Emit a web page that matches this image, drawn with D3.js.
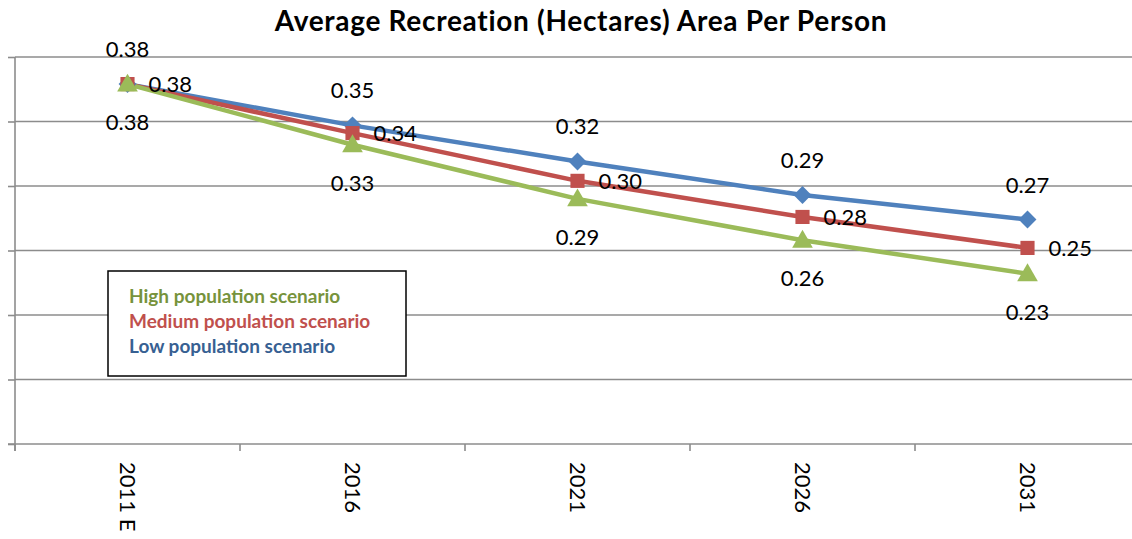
<!DOCTYPE html>
<html>
<head>
<meta charset="utf-8">
<script src="https://cdn.jsdelivr.net/npm/d3@7"></script>
<style>
  html, body { margin: 0; padding: 0; background: #fff; }
  svg { display: block; }
  text { font-family: Lato, "Open Sans", sans-serif; }
</style>
</head>
<body>
<svg id="chart" width="1132" height="539"></svg>
<script>
// Chart data
const years = ["2011 E", "2016", "2021", "2026", "2031"];
const lowValues = [0.379, 0.347, 0.319, 0.293, 0.274];
const mediumValues = [0.379, 0.341, 0.304, 0.276, 0.252];
const highValues = [0.379, 0.332, 0.29, 0.258, 0.232];
const seriesNames = ["High population scenario", "Medium population scenario", "Low population scenario"];
const yTicks = [0.10, 0.15, 0.20, 0.25, 0.30, 0.35, 0.40];

const svg = d3.select("#chart");
const W = 1132;
const plotLeft = 15, plotRight = 1140, plotTop = 57, plotBottom = 444;

const x = d3.scaleBand().domain(years).range([plotLeft, plotRight]).padding(0);
const y = d3.scaleLinear().domain([0.10, 0.40]).range([plotBottom, plotTop]);
const fmt = d3.format(".2f");
const cx = (i) => x(years[i]) + x.bandwidth() / 2;

// Title
svg.append("text")
  .attr("x", 581).attr("y", 31)
  .attr("text-anchor", "middle")
  .attr("font-size", 28).attr("font-weight", "bold")
  .attr("letter-spacing", 0.7)
  .text("Average Recreation (Hectares) Area Per Person");

// Horizontal gridlines
svg.append("g").selectAll("line").data(yTicks.slice(1)).join("line")
  .attr("x1", plotLeft).attr("x2", W)
  .attr("y1", d => y(d)).attr("y2", d => y(d))
  .attr("stroke", "#8c8c8c").attr("stroke-width", 1.6);

// Y axis (ticks without labels)
const yAxis = d3.axisLeft(y).tickValues(yTicks).tickSize(7).tickFormat("");
const gy = svg.append("g").attr("transform", `translate(${plotLeft},0)`).call(yAxis);
gy.select(".domain").attr("stroke", "#8c8c8c").attr("stroke-width", 1.6)
  .attr("d", `M0,${plotTop}V${plotBottom + 7}`);
gy.selectAll(".tick line").attr("stroke", "#8c8c8c").attr("stroke-width", 1.6);

// X axis with tick marks between categories
const gx = svg.append("g").attr("transform", `translate(0,${plotBottom})`);
gx.append("line").attr("x1", plotLeft - 7).attr("x2", W).attr("y1", 0).attr("y2", 0)
  .attr("stroke", "#8c8c8c").attr("stroke-width", 1.6);
const boundaries = years.map(d => x(d)).concat([x(years[years.length - 1]) + x.bandwidth()]);
gx.selectAll("line.tk").data(boundaries).join("line").attr("class", "tk")
  .attr("x1", d => d).attr("x2", d => d).attr("y1", 0).attr("y2", 7)
  .attr("stroke", "#8c8c8c").attr("stroke-width", 1.6);
gx.selectAll("text").data(years).join("text")
  .attr("transform", (d, i) => `translate(${cx(i) - 8},${18}) rotate(90)`)
  .attr("text-anchor", "start")
  .attr("font-size", 22)
  .text(d => d);

const series = [
  { name: "Low", values: lowValues, color: "#4f81bd", marker: d3.symbolSquare, size: 160, rot: 45, dy: 0, label: "above" },
  { name: "Medium", values: mediumValues, color: "#c0504d", marker: d3.symbolSquare, size: 200, rot: 0, dy: 0, label: "right" },
  { name: "High", values: highValues, color: "#9bbb59", marker: d3.symbolTriangle, size: 185, rot: 0, dy: 1.5, label: "below" }
];

const line = d3.line().x((d, i) => cx(i)).y(d => y(d));

series.forEach(s => {
  svg.append("path").datum(s.values)
    .attr("d", line).attr("fill", "none")
    .attr("stroke", s.color).attr("stroke-width", 4.5)
    .attr("stroke-linejoin", "round");
});

series.forEach(s => {
  svg.append("g").selectAll("path").data(s.values).join("path")
    .attr("transform", (d, i) => `translate(${cx(i)},${y(d) + s.dy}) rotate(${s.rot})`)
    .attr("d", d3.symbol().type(s.marker).size(s.size))
    .attr("fill", s.color);
});

// Data labels
series.forEach(s => {
  svg.append("g").selectAll("text").data(s.values).join("text")
    .attr("x", (d, i) => s.label === "right" ? cx(i) + 21 : cx(i))
    .attr("y", d => {
      if (s.label === "above") return y(d) - 27;
      if (s.label === "below") return y(d) + 46;
      return y(d) + 8;
    })
    .attr("text-anchor", s.label === "right" ? "start" : "middle")
    .attr("font-size", 22)
    .attr("fill", "#000")
    .text(d => fmt(d));
});

// Legend
const legend = svg.append("g");
legend.append("rect")
  .attr("x", 108).attr("y", 271).attr("width", 298).attr("height", 105)
  .attr("fill", "#fff").attr("stroke", "#000").attr("stroke-width", 1.5);
const legendColors = ["#77933c", "#c0504d", "#376092"];
legend.selectAll("text").data(seriesNames).join("text")
  .attr("x", 129).attr("y", (d, i) => 303 + i * 25)
  .attr("font-size", 19).attr("font-weight", "bold")
  .attr("fill", (d, i) => legendColors[i])
  .text(d => d);
</script>
</body>
</html>
